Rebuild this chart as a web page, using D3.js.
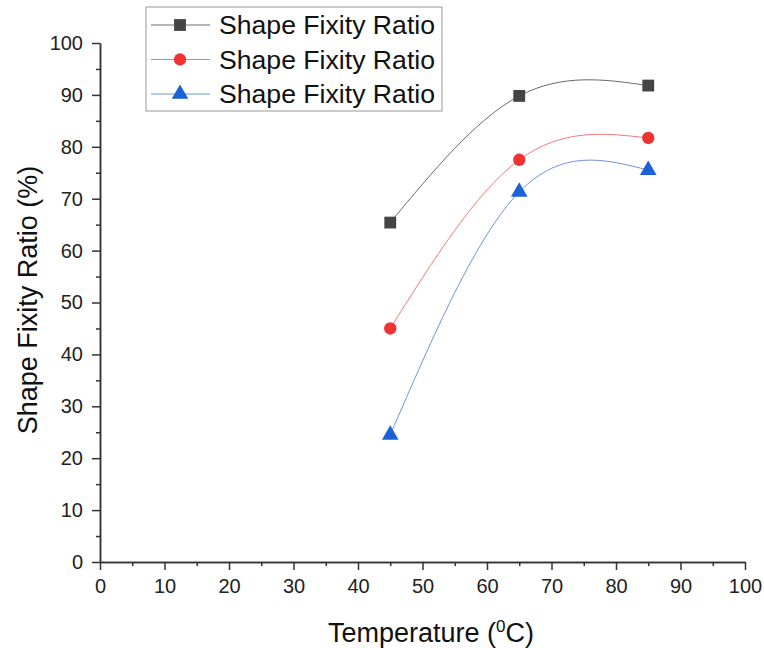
<!doctype html>
<html lang="en">
  <head>
    <meta charset="UTF-8">
    <title>Shape Fixity Ratio vs Temperature</title>
    <style>
      body { margin: 0; background: #fff; }
      .tick text { font-family: "Liberation Sans", Arial, sans-serif; font-size: 20px; fill: #222; }
      .label { font: 27px "Liberation Sans", Arial, sans-serif; fill: #111; }
      .legend text { font: 26px "Liberation Sans", Arial, sans-serif; fill: #111; }
    </style>
  </head>
  <body>
    <svg width="764" height="648"></svg>
    <script src="https://d3js.org/d3.v7.min.js"></script>
    <script>

      // temperatures (deg C)
      var temps = [45, 65, 85];
      // shape fixity ratio (%) for each sample
      var seriesA = [65.4, 89.8, 91.8];
      var seriesB = [45.0, 77.5, 81.7];
      var seriesC = [24.5, 71.3, 75.5];
      var seriesNames = ["Shape Fixity Ratio", "Shape Fixity Ratio", "Shape Fixity Ratio"];
      var majorTicks = [0, 10, 20, 30, 40, 50, 60, 70, 80, 90, 100];
      var minorTicks = [5, 15, 25, 35, 45, 55, 65, 75, 85, 95];

      var series = [
        { name: seriesNames[0], values: seriesA, color: "#444444", line: "#6a6a6a", shape: d3.symbolSquare, size: 140 },
        { name: seriesNames[1], values: seriesB, color: "#ee3333", line: "#f07a7a", shape: d3.symbolCircle, size: 120 },
        { name: seriesNames[2], values: seriesC, color: "#1b62d8", line: "#6f93dd", shape: d3.symbolTriangle, size: 120 }
      ];

      var svg = d3.select("svg"),
          mLeft = 100, mRight = 745, mTop = 43, mBottom = 562;

      var x = d3.scaleLinear().domain([0, 100]).range([mLeft, mRight]);
      var y = d3.scaleLinear().domain([0, 100]).range([mBottom, mTop]);

      // axes: major ticks with labels, minor ticks without
      svg.append("g")
          .attr("transform", "translate(0," + mBottom + ")")
          .call(d3.axisBottom(x).tickValues(majorTicks).tickSize(8).tickPadding(9).tickSizeOuter(0));
      svg.append("g")
          .attr("transform", "translate(0," + mBottom + ")")
          .call(d3.axisBottom(x).tickValues(minorTicks).tickSize(4).tickFormat("").tickSizeOuter(0));

      svg.append("g")
          .attr("transform", "translate(" + mLeft + ",0)")
          .call(d3.axisLeft(y).tickValues(majorTicks).tickSize(8).tickPadding(9).tickSizeOuter(0));
      svg.append("g")
          .attr("transform", "translate(" + mLeft + ",0)")
          .call(d3.axisLeft(y).tickValues(minorTicks).tickSize(4).tickFormat("").tickSizeOuter(0));

      svg.selectAll(".domain").attr("stroke", "#333").attr("stroke-width", 1.5);
      svg.selectAll(".tick line").attr("stroke", "#333").attr("stroke-width", 1.5);

      // smoothed curves + markers
      var line = d3.line()
          .x(function (d) { return x(d[0]); })
          .y(function (d) { return y(d[1]); })
          .curve(d3.curveNatural);

      series.forEach(function (s) {
        var pts = temps.map(function (t, i) { return [t, s.values[i]]; });
        svg.append("path")
            .attr("d", line(pts))
            .attr("fill", "none")
            .attr("stroke", s.line)
            .attr("stroke-width", 1);
        svg.selectAll(null)
            .data(pts)
            .enter().append("path")
            .attr("d", d3.symbol().type(s.shape).size(s.size))
            .attr("transform", function (d) { return "translate(" + x(d[0]) + "," + y(d[1]) + ")"; })
            .attr("fill", s.color);
      });

      // axis titles
      var xt = svg.append("text")
          .attr("class", "label")
          .attr("x", 431)
          .attr("y", 642)
          .attr("text-anchor", "middle");
      xt.append("tspan").text("Temperature (");
      xt.append("tspan").attr("font-size", 17).attr("dy", -10).text("0");
      xt.append("tspan").attr("dy", 10).text("C)");

      svg.append("text")
          .attr("class", "label")
          .attr("transform", "translate(37,300) rotate(-90)")
          .attr("text-anchor", "middle")
          .text("Shape Fixity Ratio (%)");

      // legend
      var legend = svg.append("g").attr("class", "legend");
      legend.append("rect")
          .attr("x", 146).attr("y", 7)
          .attr("width", 296).attr("height", 104)
          .attr("fill", "#fff")
          .attr("stroke", "#999")
          .attr("stroke-width", 1);

      series.forEach(function (s, i) {
        var cy = 25 + i * 34.5;
        legend.append("line")
            .attr("x1", 151).attr("x2", 210)
            .attr("y1", cy).attr("y2", cy)
            .attr("stroke", s.line)
            .attr("stroke-width", 1);
        legend.append("path")
            .attr("d", d3.symbol().type(s.shape).size(s.size))
            .attr("transform", "translate(180," + cy + ")")
            .attr("fill", s.color);
        legend.append("text")
            .attr("x", 219)
            .attr("y", cy + 9)
            .attr("textLength", 216)
            .attr("lengthAdjust", "spacingAndGlyphs")
            .text(s.name);
      });

    </script>
  </body>
</html>
